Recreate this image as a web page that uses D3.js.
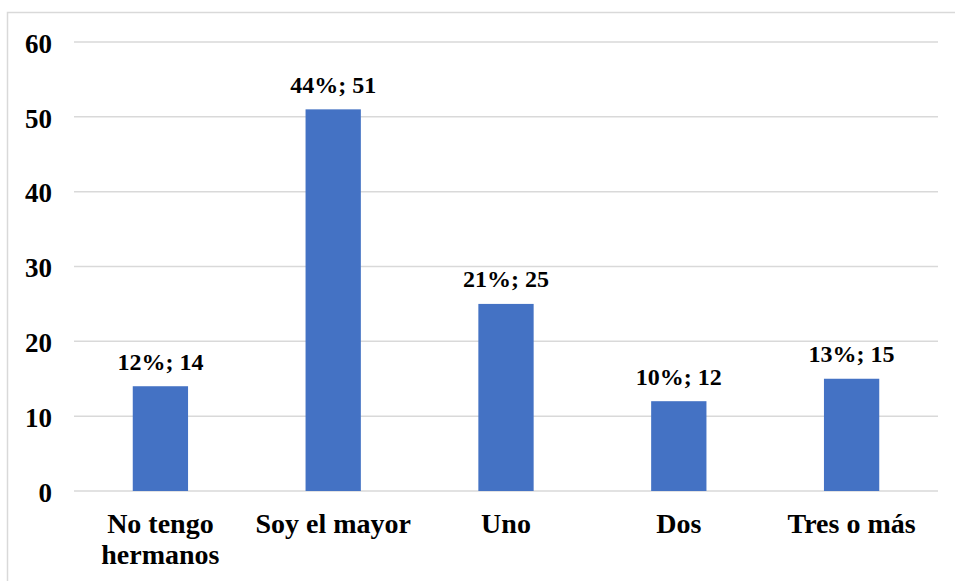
<!DOCTYPE html>
<html>
<head>
<meta charset="utf-8">
<script src="https://cdn.jsdelivr.net/npm/d3@7"></script>
<style>
  html, body { margin: 0; padding: 0; background: #fff; }
  svg { display: block; }
  text { font-family: "Liberation Serif", "Times New Roman", serif; font-weight: bold; fill: #000; }
</style>
</head>
<body>
<script>
const categories = ["No tengo hermanos", "Soy el mayor", "Uno", "Dos", "Tres o más"];
const categoryLines = [["No tengo", "hermanos"], ["Soy el mayor"], ["Uno"], ["Dos"], ["Tres o más"]];
const values = [14, 51, 25, 12, 15];
const percents = ["12%", "44%", "21%", "10%", "13%"];
const yTicks = [0, 10, 20, 30, 40, 50, 60];

const W = 955, H = 581;
const svg = d3.select("body").append("svg").attr("width", W).attr("height", H);

// outer border (only top and left visible)
svg.append("rect").attr("x", 7.5).attr("y", 12.5).attr("width", 960).attr("height", 600)
  .attr("fill", "none").attr("stroke", "#d9d9d9").attr("stroke-width", 1.5);

const plotL = 74, plotR = 938, plotT = 42, plotB = 491;
const x = d3.scaleBand().domain(categories).range([plotL, plotR]).paddingInner(0.68).paddingOuter(0.34);
const y = d3.scaleLinear().domain([0, 60]).range([plotB, plotT]);

// gridlines
svg.append("g").selectAll("line").data(yTicks).join("line")
  .attr("x1", plotL).attr("x2", plotR)
  .attr("y1", d => y(d)).attr("y2", d => y(d))
  .attr("stroke", "#d9d9d9").attr("stroke-width", 1.5);

// y axis labels
const yAxis = d3.axisLeft(y).tickValues(yTicks).tickSize(0).tickPadding(0);
const gy = svg.append("g").attr("transform", `translate(${52},0)`).call(yAxis);
gy.select(".domain").remove();
gy.selectAll("text").style("font-size", "27px").style("font-family", "'Liberation Serif', serif")
  .style("font-weight", "bold").attr("fill", "#000").attr("dy", "0.38em");

// bars
svg.append("g").selectAll("rect").data(values).join("rect")
  .attr("x", (d, i) => x(categories[i]))
  .attr("width", x.bandwidth())
  .attr("y", d => y(d))
  .attr("height", d => y(0) - y(d))
  .attr("fill", "#4472C4");

// data labels
svg.append("g").selectAll("text").data(values).join("text")
  .attr("x", (d, i) => x(categories[i]) + x.bandwidth() / 2)
  .attr("y", d => y(d) - 16.5)
  .attr("text-anchor", "middle")
  .style("font-size", "24px")
  .text((d, i) => `${percents[i]}; ${d}`);

// category labels
const cg = svg.append("g");
categoryLines.forEach((lines, i) => {
  const t = cg.append("text")
    .attr("x", x(categories[i]) + x.bandwidth() / 2)
    .attr("y", 533)
    .attr("text-anchor", "middle")
    .style("font-size", "28px");
  lines.forEach((ln, j) => {
    t.append("tspan").attr("x", x(categories[i]) + x.bandwidth() / 2)
      .attr("dy", j === 0 ? 0 : 31).text(ln);
  });
});
</script>
</body>
</html>
